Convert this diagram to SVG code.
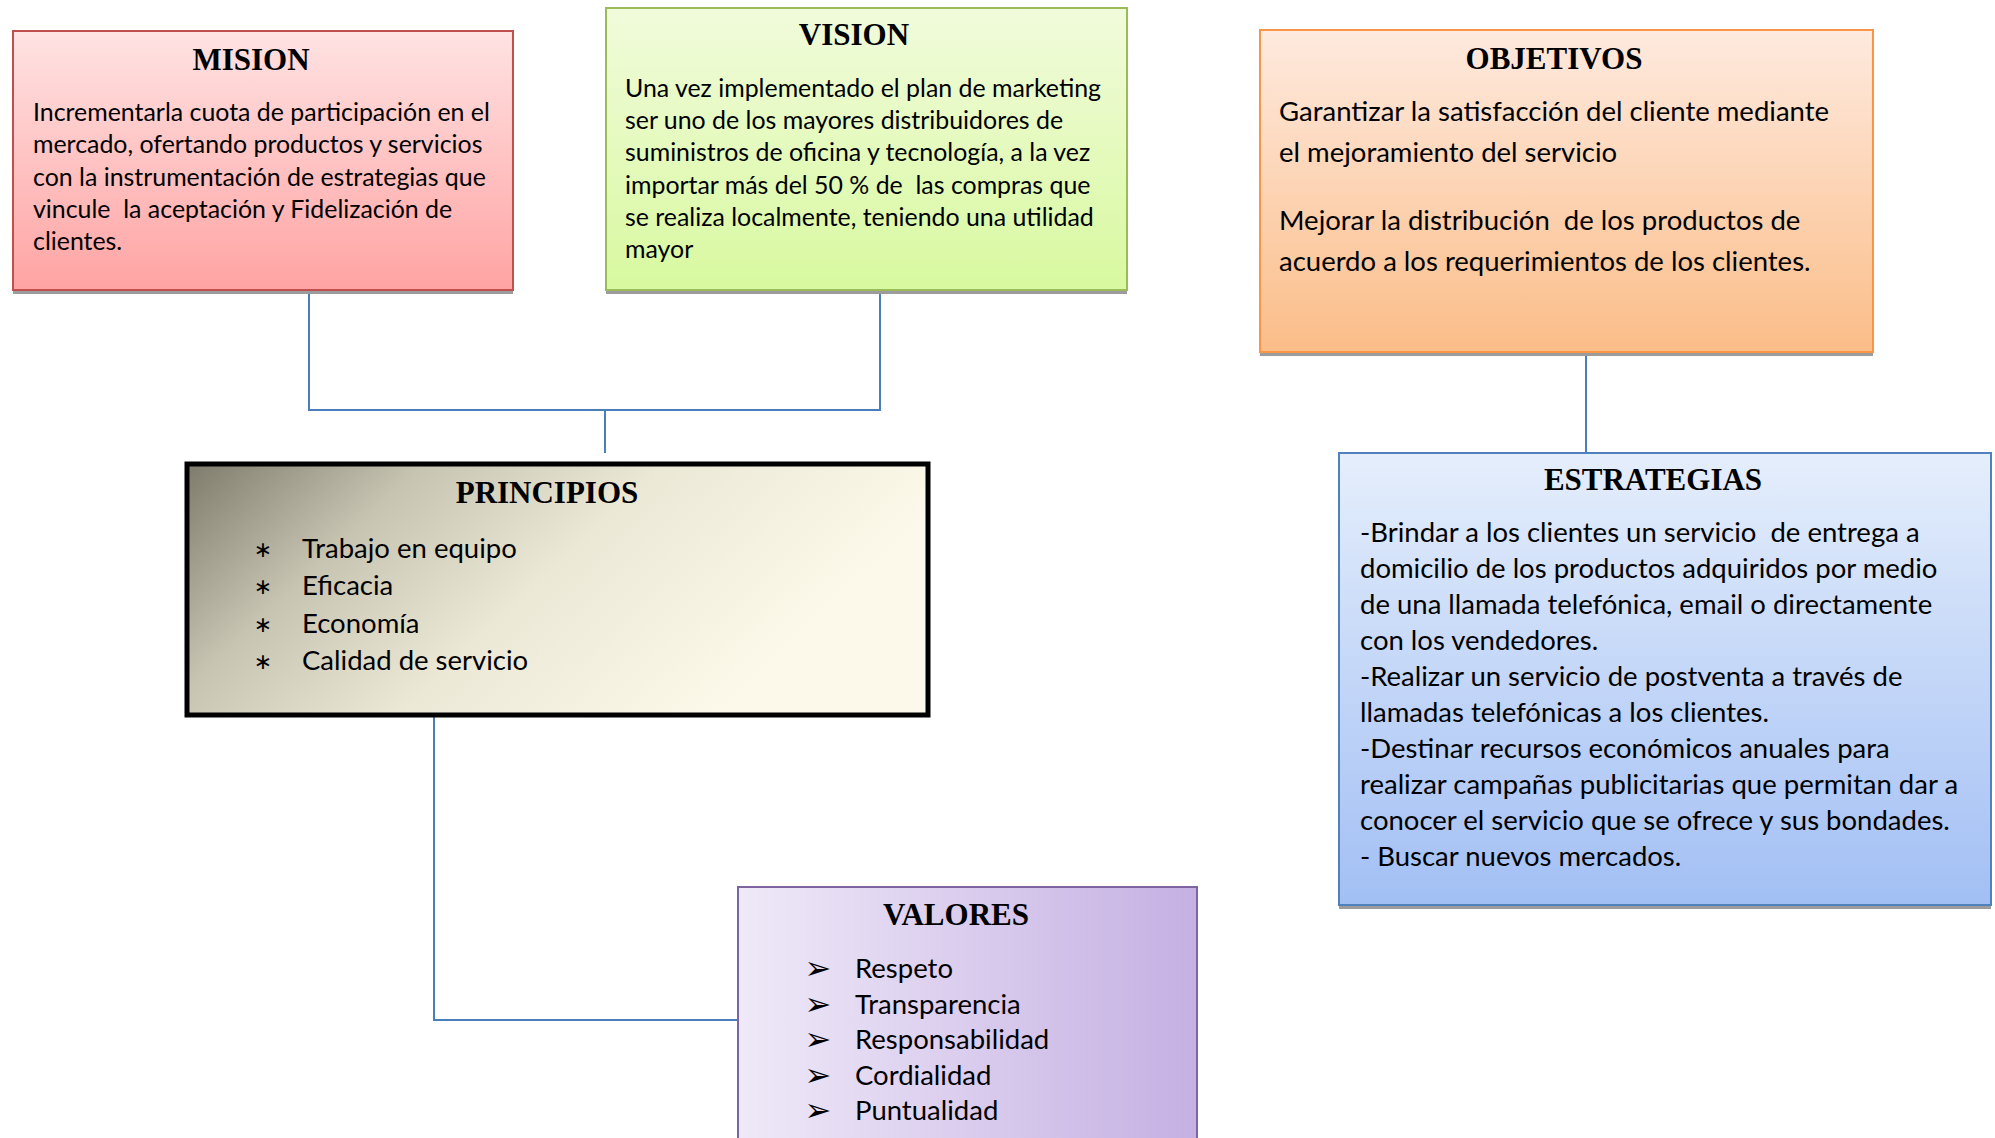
<svg xmlns="http://www.w3.org/2000/svg" width="1995" height="1138" viewBox="0 0 1995 1138">
<defs>
<linearGradient id="gMision" x1="0" y1="0" x2="0" y2="1"><stop offset="0" stop-color="#ffe3e3"/><stop offset="1" stop-color="#ffa3a3"/></linearGradient>
<linearGradient id="gVision" x1="0" y1="0" x2="0" y2="1"><stop offset="0" stop-color="#f1fbdc"/><stop offset="1" stop-color="#d8f99f"/></linearGradient>
<linearGradient id="gObj" x1="0" y1="0" x2="0" y2="1"><stop offset="0" stop-color="#feeadf"/><stop offset="1" stop-color="#fbbd88"/></linearGradient>
<linearGradient id="gEst" x1="0" y1="0" x2="0" y2="1"><stop offset="0" stop-color="#e5eefc"/><stop offset="1" stop-color="#a2bff4"/></linearGradient>
<linearGradient id="gVal" x1="0" y1="0" x2="1" y2="0"><stop offset="0" stop-color="#efe9f8"/><stop offset="1" stop-color="#c5b0e3"/></linearGradient>
<linearGradient id="gPrin" gradientUnits="userSpaceOnUse" x1="187" y1="464" x2="560" y2="860"><stop offset="0" stop-color="#7f7b6c"/><stop offset="0.3" stop-color="#c8c4b2"/><stop offset="0.6" stop-color="#ece8d6"/><stop offset="1" stop-color="#fdf9ea"/></linearGradient>
</defs>
<style>
.title{font-family:"Liberation Serif","Times New Roman",serif;font-weight:bold;font-size:31px;fill:#000;text-anchor:middle}
.body{font-family:Lato,"Liberation Sans",sans-serif;fill:#000;white-space:pre}
.s1{font-size:24.9px}
.s2{font-size:27.5px}
.shadow{fill:#9c9c9c}
.conn{fill:none;stroke:#4a7ebb;stroke-width:2}
.bul{font-family:"DejaVu Sans",sans-serif;font-size:22px;fill:#000;text-anchor:middle}
.arr{font-family:"DejaVu Sans",sans-serif;font-size:32px;fill:#000;text-anchor:middle}
</style>
<g id="connectors">
<path class="conn" d="M309 290 V410 H880 V290"/>
<path class="conn" d="M605 410 V453"/>
<path class="conn" d="M434 717 V1020 H738"/>
<path class="conn" d="M1586 352 V453"/>
</g>
<g id="mision">
<rect class="shadow" x="13" y="35" width="500" height="259"/>
<rect x="13" y="31" width="500" height="259" fill="url(#gMision)" stroke="#c0504d" stroke-width="2"/>
<text class="title" x="251" y="70">MISION</text>
<text class="body s1" x="33" y="121">Incrementarla cuota de participación en el</text>
<text class="body s1" x="33" y="153.3">mercado, ofertando productos y servicios</text>
<text class="body s1" x="33" y="185.6">con la instrumentación de estrategias que</text>
<text class="body s1" x="33" y="217.9">vincule  la aceptación y Fidelización de</text>
<text class="body s1" x="33" y="250.2">clientes.</text>
</g>
<g id="vision">
<rect class="shadow" x="606" y="12" width="521" height="282"/>
<rect x="606" y="8" width="521" height="282" fill="url(#gVision)" stroke="#9bbb59" stroke-width="2"/>
<text class="title" x="854" y="45">VISION</text>
<text class="body s1" x="625" y="96.7">Una vez implementado el plan de marketing</text>
<text class="body s1" x="625" y="129">ser uno de los mayores distribuidores de</text>
<text class="body s1" x="625" y="161.3">suministros de oficina y tecnología, a la vez</text>
<text class="body s1" x="625" y="193.6">importar más del 50 % de  las compras que</text>
<text class="body s1" x="625" y="225.9">se realiza localmente, teniendo una utilidad</text>
<text class="body s1" x="625" y="258.2">mayor</text>
</g>
<g id="objetivos">
<rect class="shadow" x="1260" y="34" width="613" height="322"/>
<rect x="1260" y="30" width="613" height="322" fill="url(#gObj)" stroke="#f79646" stroke-width="2"/>
<text class="title" x="1554" y="69">OBJETIVOS</text>
<text class="body s2" x="1279" y="121">Garantizar la satisfacción del cliente mediante</text>
<text class="body s2" x="1279" y="162">el mejoramiento del servicio</text>
<text class="body s2" x="1279" y="230">Mejorar la distribución  de los productos de</text>
<text class="body s2" x="1279" y="271">acuerdo a los requerimientos de los clientes.</text>
</g>
<g id="principios">
<rect x="187" y="464" width="741" height="251" fill="url(#gPrin)" stroke="#000" stroke-width="5"/>
<text class="title" x="547" y="503">PRINCIPIOS</text>
<text class="bul" x="263" y="557">∗</text>
<text class="bul" x="263" y="594.3">∗</text>
<text class="bul" x="263" y="631.6">∗</text>
<text class="bul" x="263" y="668.9">∗</text>
<text class="body s2" x="302" y="558">Trabajo en equipo</text>
<text class="body s2" x="302" y="595.3">Eficacia</text>
<text class="body s2" x="302" y="632.6">Economía</text>
<text class="body s2" x="302" y="669.9">Calidad de servicio</text>
</g>
<g id="estrategias">
<rect class="shadow" x="1339" y="457" width="652" height="452"/>
<rect x="1339" y="453" width="652" height="452" fill="url(#gEst)" stroke="#4f81bd" stroke-width="2"/>
<text class="title" x="1653" y="490">ESTRATEGIAS</text>
<text class="body s2" x="1360" y="541.5">-Brindar a los clientes un servicio  de entrega a</text>
<text class="body s2" x="1360" y="577.5">domicilio de los productos adquiridos por medio</text>
<text class="body s2" x="1360" y="613.5">de una llamada telefónica, email o directamente</text>
<text class="body s2" x="1360" y="649.5">con los vendedores.</text>
<text class="body s2" x="1360" y="685.5">-Realizar un servicio de postventa a través de</text>
<text class="body s2" x="1360" y="721.5">llamadas telefónicas a los clientes.</text>
<text class="body s2" x="1360" y="757.5">-Destinar recursos económicos anuales para</text>
<text class="body s2" x="1360" y="793.5">realizar campañas publicitarias que permitan dar a</text>
<text class="body s2" x="1360" y="829.5">conocer el servicio que se ofrece y sus bondades.</text>
<text class="body s2" x="1360" y="865.5">- Buscar nuevos mercados.</text>
</g>
<g id="valores">
<rect x="738" y="887" width="459" height="270" fill="url(#gVal)" stroke="#8064a2" stroke-width="2"/>
<text class="title" x="956" y="925">VALORES</text>
<text class="arr" x="818" y="979">➢</text>
<text class="arr" x="818" y="1014.6">➢</text>
<text class="arr" x="818" y="1050.2">➢</text>
<text class="arr" x="818" y="1085.8">➢</text>
<text class="arr" x="818" y="1121.4">➢</text>
<text class="body s2" x="855" y="978">Respeto</text>
<text class="body s2" x="855" y="1013.6">Transparencia</text>
<text class="body s2" x="855" y="1049.2">Responsabilidad</text>
<text class="body s2" x="855" y="1084.8">Cordialidad</text>
<text class="body s2" x="855" y="1120.4">Puntualidad</text>
</g>
</svg>
